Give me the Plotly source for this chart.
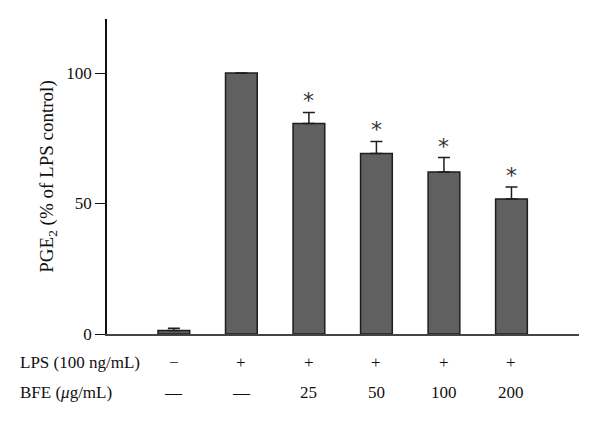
import plotly.graph_objects as go

groups = [0, 1, 2, 3, 4, 5]
pge2 = [1.3, 100, 80.7, 69.2, 62.1, 51.7]
sem = [0.9, 0, 4.2, 4.6, 5.5, 4.6]
signif = ["", "", "*", "*", "*", "*"]
lps_row = ["\u2212", "+", "+", "+", "+", "+"]
bfe_row = ["\u2014", "\u2014", "25", "50", "100", "200"]

serif = "Liberation Serif"
fsize = 17

fig = go.Figure()
fig.add_trace(go.Bar(
    x=groups,
    y=pge2,
    width=0.47,
    marker=dict(color="#606060", line=dict(color="#1e1e1e", width=1.5)),
    error_y=dict(type="data", array=sem, arrayminus=[0] * len(sem),
                 symmetric=False, color="#1e1e1e", thickness=1.5, width=6),
    showlegend=False,
    hoverinfo="skip",
))

annotations = []
for g, v, e, s in zip(groups, pge2, sem, signif):
    if s:
        annotations.append(dict(x=g, y=v + e, xref="x", yref="y", text=s,
                                showarrow=False, yanchor="bottom", yshift=-3,
                                font=dict(family="DejaVu Sans", size=22, color="#333")))

# condition rows under the axis
for g, a, b in zip(groups, lps_row, bfe_row):
    annotations.append(dict(x=g, y=-0.089, xref="x", yref="paper", text=a,
                            showarrow=False, yanchor="middle",
                            font=dict(family=serif, size=fsize, color="#111")))
    annotations.append(dict(x=g, y=-0.187, xref="x", yref="paper", text=b,
                            showarrow=False, yanchor="middle",
                            font=dict(family=serif, size=fsize, color="#111")))
annotations.append(dict(x=-0.1886, y=-0.089, xref="paper", yref="paper",
                        text="LPS (100 ng/mL)", showarrow=False,
                        xanchor="left", yanchor="middle",
                        font=dict(family=serif, size=fsize, color="#111")))
annotations.append(dict(x=-0.1886, y=-0.187, xref="paper", yref="paper",
                        text="BFE (<i>\u03bc</i>g/mL)", showarrow=False,
                        xanchor="left", yanchor="middle",
                        font=dict(family=serif, size=fsize, color="#111")))

# the page body adds an 8px offset, so left/top margins are reduced by 8
fig.update_layout(
    width=600, height=422,
    margin=dict(l=99, r=29, t=11, b=96),
    plot_bgcolor="white", paper_bgcolor="white",
    font=dict(family=serif, size=fsize, color="#111"),
    annotations=annotations,
)
fig.update_xaxes(range=[-0.99, 6.0], showticklabels=False, ticks="",
                 showgrid=False, zeroline=False, showline=True,
                 linecolor="#444", linewidth=1.5)
fig.update_yaxes(range=[0, 120.7], tickvals=[0, 50, 100], ticks="outside",
                 ticklen=10, tickwidth=1.2, tickcolor="#111",
                 showgrid=False, zeroline=False, showline=True,
                 linecolor="#111", linewidth=1.5,
                 title=dict(text="PGE<sub>2</sub> (% of LPS control)",
                            font=dict(family=serif, size=19), standoff=8),
                 tickfont=dict(family=serif, size=fsize))

fig.write_html("out.html")
